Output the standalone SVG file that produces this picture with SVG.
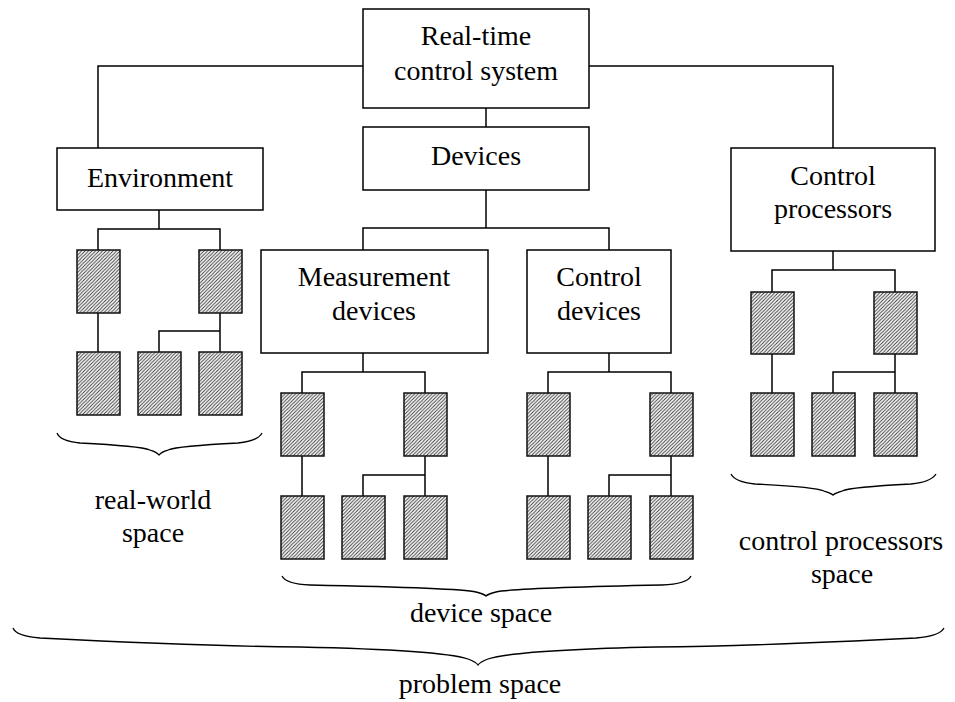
<svg xmlns="http://www.w3.org/2000/svg" width="955" height="702" viewBox="0 0 955 702">
<style>
  .box{fill:#fff;stroke:#000;stroke-width:1.5}
  .hb{fill:url(#hatch);stroke:#111;stroke-width:1.5}
  .ln{fill:none;stroke:#000;stroke-width:1.5}
  .br{fill:none;stroke:#000;stroke-width:1.3}
</style>
<defs>
  <pattern id="hatch" patternUnits="userSpaceOnUse" width="3.5" height="3.5">
    <rect width="3.5" height="3.5" fill="#fff"/>
    <path d="M-1,1 L1,-1 M0,3.5 L3.5,0 M2.5,4.5 L4.5,2.5" stroke="#333" stroke-width="0.9"/>
  </pattern>
</defs>
<rect width="955" height="702" fill="#fff"/>

<g id="connectors">
  <polyline class="ln" points="98,148 98,66 363,66"/>
  <polyline class="ln" points="589,66 833,66 833,148"/>
  <line class="ln" x1="486" y1="108" x2="486" y2="127"/>
  <line class="ln" x1="486" y1="190" x2="486" y2="228"/>
  <polyline class="ln" points="363,250 363,228 609,228 609,250"/>
  <line class="ln" x1="159" y1="210" x2="159" y2="229"/>
  <polyline class="ln" points="98,250 98,229 220,229 220,250"/>
  <line class="ln" x1="98" y1="313" x2="98" y2="352"/>
  <line class="ln" x1="220" y1="313" x2="220" y2="352"/>
  <polyline class="ln" points="159,352 159,331 220,331"/>
  <line class="ln" x1="363" y1="353" x2="363" y2="372"/>
  <polyline class="ln" points="302,393 302,372 425,372 425,393"/>
  <line class="ln" x1="302" y1="456" x2="302" y2="496"/>
  <line class="ln" x1="425" y1="456" x2="425" y2="496"/>
  <polyline class="ln" points="363,496 363,475 425,475"/>
  <line class="ln" x1="609" y1="353" x2="609" y2="372"/>
  <polyline class="ln" points="548,393 548,372 671,372 671,393"/>
  <line class="ln" x1="548" y1="456" x2="548" y2="496"/>
  <line class="ln" x1="671" y1="456" x2="671" y2="496"/>
  <polyline class="ln" points="609,496 609,475 671,475"/>
  <line class="ln" x1="833" y1="251" x2="833" y2="270"/>
  <polyline class="ln" points="772,292 772,270 895,270 895,292"/>
  <line class="ln" x1="772" y1="354" x2="772" y2="393"/>
  <line class="ln" x1="895" y1="354" x2="895" y2="393"/>
  <polyline class="ln" points="833,393 833,372 895,372"/>
</g>

<g id="rtcs"><rect class="box" x="363" y="9" width="226" height="99"/>
  <text x="476" y="45" font-family="Liberation Serif" font-size="28" text-anchor="middle">Real-time</text>
  <text x="476" y="80" font-family="Liberation Serif" font-size="28" text-anchor="middle">control system</text></g>
<g id="devices"><rect class="box" x="363" y="127" width="226" height="63"/>
  <text x="476" y="165" font-family="Liberation Serif" font-size="28" text-anchor="middle">Devices</text></g>
<g id="environment"><rect class="box" x="57" y="148" width="206" height="62"/>
  <text x="160" y="187" font-family="Liberation Serif" font-size="28" text-anchor="middle">Environment</text></g>
<g id="control-processors"><rect class="box" x="731" y="148" width="204" height="103"/>
  <text x="833" y="185" font-family="Liberation Serif" font-size="28" text-anchor="middle">Control</text>
  <text x="833" y="218" font-family="Liberation Serif" font-size="28" text-anchor="middle">processors</text></g>
<g id="measurement-devices"><rect class="box" x="261" y="250" width="227" height="103"/>
  <text x="374" y="286" font-family="Liberation Serif" font-size="28" text-anchor="middle">Measurement</text>
  <text x="374" y="320" font-family="Liberation Serif" font-size="28" text-anchor="middle">devices</text></g>
<g id="control-devices"><rect class="box" x="527" y="250" width="144" height="103"/>
  <text x="599" y="286" font-family="Liberation Serif" font-size="28" text-anchor="middle">Control</text>
  <text x="599" y="320" font-family="Liberation Serif" font-size="28" text-anchor="middle">devices</text></g>

<g id="env-units">
  <rect class="hb" x="77" y="250" width="43" height="63"/>
  <rect class="hb" x="199" y="250" width="43" height="63"/>
  <rect class="hb" x="77" y="352" width="43" height="63"/>
  <rect class="hb" x="138" y="352" width="43" height="63"/>
  <rect class="hb" x="199" y="352" width="43" height="63"/>
</g>
<g id="meas-units">
  <rect class="hb" x="281" y="393" width="43" height="63"/>
  <rect class="hb" x="404" y="393" width="43" height="63"/>
  <rect class="hb" x="281" y="496" width="43" height="63"/>
  <rect class="hb" x="342" y="496" width="43" height="63"/>
  <rect class="hb" x="404" y="496" width="43" height="63"/>
</g>
<g id="ctrl-units">
  <rect class="hb" x="527" y="393" width="43" height="63"/>
  <rect class="hb" x="650" y="393" width="43" height="63"/>
  <rect class="hb" x="527" y="496" width="43" height="63"/>
  <rect class="hb" x="588" y="496" width="43" height="63"/>
  <rect class="hb" x="650" y="496" width="43" height="63"/>
</g>
<g id="proc-units">
  <rect class="hb" x="751" y="292" width="43" height="62"/>
  <rect class="hb" x="874" y="292" width="43" height="62"/>
  <rect class="hb" x="751" y="393" width="43" height="63"/>
  <rect class="hb" x="812" y="393" width="43" height="63"/>
  <rect class="hb" x="874" y="393" width="43" height="63"/>
</g>

<g id="braces">
  <path class="br" d="M57,433 Q60,441 80,443 Q140,446 150,450 Q157,452 159,455 Q161,452 168,450 Q178,446 238,443 Q258,441 262,433"/>
  <path class="br" d="M282,576 Q286,584 310,585 Q460,588 476,592 Q484,594 486,596 Q488,594 496,592 Q512,588 662,585 Q687,584 691,576"/>
  <path class="br" d="M731,474 Q735,482 755,484 Q815,487 824,491 Q831,493 833,495 Q835,493 842,491 Q851,487 911,484 Q931,482 936,474"/>
  <path class="br" d="M13,628 Q16,636 40,638 Q200,646 300,647 Q440,650 468,659 Q476,662 478,665 Q480,662 488,659 Q516,650 656,647 Q756,646 916,638 Q940,636 944,628"/>
</g>

<g id="labels">
  <text x="153" y="509" font-family="Liberation Serif" font-size="28" text-anchor="middle">real-world</text>
  <text x="153" y="542" font-family="Liberation Serif" font-size="28" text-anchor="middle">space</text>
  <text x="841" y="550" font-family="Liberation Serif" font-size="28" text-anchor="middle">control processors</text>
  <text x="842" y="583" font-family="Liberation Serif" font-size="28" text-anchor="middle">space</text>
  <text x="481" y="622" font-family="Liberation Serif" font-size="28" text-anchor="middle">device space</text>
  <text x="480" y="693" font-family="Liberation Serif" font-size="28" text-anchor="middle">problem space</text>
</g>
</svg>
